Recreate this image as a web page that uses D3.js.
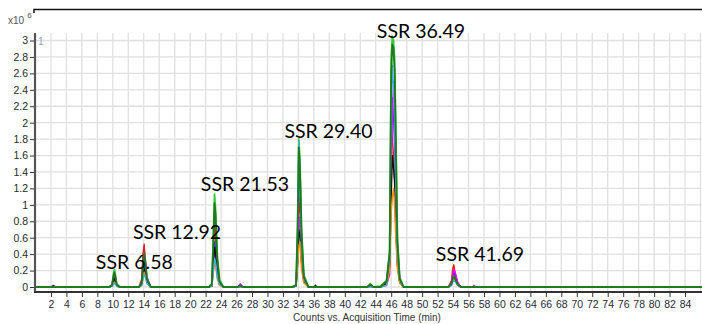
<!DOCTYPE html>
<html><head><meta charset="utf-8">
<script src="https://cdn.jsdelivr.net/npm/d3@7"></script>
<style>html,body{margin:0;padding:0;background:#fff;}svg{display:block;}</style>
</head><body>
<svg id="c" width="702" height="324"></svg>
<script>
// ---- data (intensity in x10^6 counts vs acquisition time in min) ----
const times = [0,
  2.0,2.3,2.6,
  9.5,9.9,10.05,10.2,10.35,10.5,10.9,
  13.4,13.75,13.9,14.05,14.2,14.4,14.9,
  22.4,22.8,23.0,23.15,23.3,23.5,23.8,24.3,
  26.2,26.5,26.8,
  33.2,33.7,33.9,34.05,34.2,34.4,34.7,35.3,
  36.0,36.2,36.4,
  42.9,43.3,43.7,
  44.6,45.4,45.8,46.0,46.15,46.3,46.45,46.6,46.8,47.1,47.6,
  53.4,53.8,53.95,54.1,54.3,54.6,55.0,
  56.5,56.7,56.9,
  86.5];
const brightGreen = [0, 0,0,0, 0,0.03,0.13,0.21,0.14,0.04,0, 0,0.07,0.30,0.46,0.33,0.12,0, 0,0.04,0.62,1.13,0.92,0.40,0.09,0, 0,0.02,0, 0,0.03,0.80,1.80,1.55,0.72,0.15,0, 0,0.01,0, 0,0.04,0, 0.01,0.08,0.45,2.80,3.05,3.00,2.75,1.90,0.60,0.12,0, 0,0.05,0.12,0.15,0.10,0.03,0, 0,0,0, 0];
const red = [0, 0,0.01,0, 0,0.02,0.08,0.12,0.07,0.02,0, 0,0.10,0.40,0.52,0.30,0.10,0, 0,0.02,0.40,0.85,0.60,0.25,0.05,0, 0,0.01,0, 0,0.02,0.55,1.10,0.90,0.35,0.08,0, 0,0,0, 0,0.02,0, 0,0.05,0.40,1.95,1.80,1.60,1.20,0.70,0.25,0.06,0, 0,0.08,0.22,0.27,0.15,0.04,0, 0,0,0, 0];
const blue = [0, 0,0,0, 0,0.01,0.05,0.08,0.06,0.01,0, 0,0.04,0.18,0.28,0.20,0.06,0, 0,0.02,0.30,0.55,0.45,0.18,0.04,0, 0,0.01,0, 0,0.01,0.50,1.20,1.35,0.55,0.10,0, 0,0,0, 0,0.01,0, 0,0.03,0.30,1.60,2.30,2.10,1.70,1.10,0.35,0.08,0, 0,0.04,0.12,0.18,0.14,0.05,0, 0,0,0, 0];
const magenta = [0, 0,0.02,0, 0,0.02,0.10,0.15,0.11,0.03,0, 0,0.05,0.25,0.40,0.34,0.12,0, 0,0.01,0.20,0.38,0.42,0.20,0.05,0, 0,0.04,0, 0,0.01,0.30,0.70,0.85,0.45,0.12,0, 0,0.01,0, 0,0.03,0, 0,0.02,0.15,1.20,2.10,2.50,2.20,1.40,0.50,0.10,0, 0,0.05,0.15,0.21,0.17,0.06,0, 0,0.02,0, 0];
const black = [0, 0,0.015,0, 0,0.01,0.06,0.10,0.08,0.02,0, 0,0.03,0.15,0.22,0.18,0.07,0, 0,0.01,0.25,0.48,0.40,0.15,0.03,0, 0,0.02,0, 0,0.01,0.30,0.70,0.62,0.30,0.06,0, 0,0.02,0, 0,0.01,0, 0,0.05,0.25,1.10,1.60,1.45,1.30,0.90,0.30,0.06,0, 0,0.03,0.09,0.12,0.09,0.03,0, 0,0,0, 0];
const orange = [0, 0,0,0, 0,0.01,0.04,0.06,0.04,0.01,0, 0,0.02,0.12,0.18,0.14,0.05,0, 0,0.01,0.18,0.30,0.26,0.10,0.02,0, 0,0,0, 0,0.01,0.25,0.50,0.55,0.22,0.05,0, 0,0,0, 0,0,0, 0,0.02,0.20,0.90,1.10,1.20,0.95,0.60,0.22,0.05,0, 0,0.02,0.07,0.10,0.08,0.02,0, 0,0,0, 0];
const cyan = [0, 0,0,0, 0,0.01,0.03,0.05,0.03,0.01,0, 0,0.02,0.10,0.15,0.12,0.04,0, 0,0.01,0.20,0.35,0.30,0.12,0.03,0, 0,0,0, 0,0.01,0.60,1.78,1.40,0.50,0.10,0, 0,0,0, 0,0,0, 0,0.02,0.35,2.30,2.70,2.40,2.00,1.20,0.40,0.08,0, 0,0.02,0.06,0.08,0.06,0.02,0, 0,0,0, 0];
const darkGreen = [0, 0,0,0, 0,0.02,0.12,0.18,0.12,0.03,0, 0,0.05,0.28,0.40,0.30,0.10,0, 0,0.03,0.55,1.02,0.85,0.35,0.07,0, 0,0.015,0, 0,0.02,0.70,1.70,1.45,0.65,0.12,0, 0,0,0, 0,0.03,0, 0,0.07,0.40,2.60,2.95,2.90,2.60,1.75,0.55,0.10,0, 0,0.04,0.10,0.13,0.09,0.03,0, 0,0,0, 0];

const seriesNames = ["brightGreen","red","blue","magenta","black","orange","cyan","darkGreen"];
const seriesValues = [brightGreen, red, blue, magenta, black, orange, cyan, darkGreen];
const seriesColors = ["#33cc33","#e31a1c","#1f3fd6","#ff00ff","#111111","#ff8c00","#3fa9f5","#1e7a1e"];

const xTicks = d3.range(2, 86, 2);
const yTicks = [0,0.2,0.4,0.6,0.8,1,1.2,1.4,1.6,1.8,2,2.2,2.4,2.6,2.8,3];
const yTickLabels = ["0","0.2","0.4","0.6","0.8","1","1.2","1.4","1.6","1.8","2","2.2","2.4","2.6","2.8","3"];

const peakLabels = ["SSR 6.58","SSR 12.92","SSR 21.53","SSR 29.40","SSR 36.49","SSR 41.69"];
const labelT = [12.78, 18.30, 27.09, 37.89, 49.85, 57.48];
const labelV = [0.219, 0.581, 1.172, 1.813, 3.027, 0.316];

// ---- drawing ----
const svg = d3.select("#c");
const x = d3.scaleLinear().domain([0, 86]).range([35.5, 700.5]);
const y = d3.scaleLinear().domain([0, 3]).range([287, 40.5]);
const plotTop = 33, axisY = 292;

// grid
const g = svg.append("g");
g.selectAll("line.v").data(xTicks.concat([86])).join("line")
  .attr("x1", d => x(d)).attr("x2", d => x(d))
  .attr("y1", plotTop).attr("y2", axisY)
  .attr("stroke", "#e0e0e0").attr("stroke-width", 1.3);
g.selectAll("line.h").data(yTicks).join("line")
  .attr("x1", 35).attr("x2", 702)
  .attr("y1", d => y(d)).attr("y2", d => y(d))
  .attr("stroke", "#e0e0e0").attr("stroke-width", 1.3);

// top frame line
svg.append("path").attr("d", "M34,13 V9.5 H702").attr("fill", "none")
  .attr("stroke", "#111").attr("stroke-width", 1.5);

// traces
const line = d3.line().x((d, i) => x(times[i])).y(d => y(d));
svg.append("g").selectAll("path").data(seriesValues).join("path")
  .attr("d", d => line(d))
  .attr("fill", "none")
  .attr("stroke", (d, i) => seriesColors[i])
  .attr("stroke-width", (d, i) => i === 0 ? 1.8 : (i === seriesValues.length - 1 ? 1.8 : 1.4))
  .attr("stroke-linejoin", "round");

// y axis
const yAxis = d3.axisLeft(y).tickValues(yTicks).tickFormat((d, i) => yTickLabels[i]).tickSize(5).tickPadding(2);
const ya = svg.append("g").attr("transform", "translate(35,0)").call(yAxis);
ya.select(".domain").remove();
ya.selectAll(".tick line").attr("stroke", "#333");
ya.selectAll("text").attr("font-family", "Liberation Sans, Arial, sans-serif").attr("font-size", 10.5).attr("fill", "#2a2a2a");
svg.append("line").attr("x1", 35).attr("x2", 35).attr("y1", plotTop).attr("y2", axisY + 1)
  .attr("stroke", "#555").attr("stroke-width", 2.2);

// x axis
const xAxis = d3.axisBottom(x).tickValues(xTicks).tickFormat(d3.format("d")).tickSize(5).tickPadding(4);
const xa = svg.append("g").attr("transform", `translate(0,${axisY})`).call(xAxis);
xa.select(".domain").remove();
xa.selectAll(".tick line").attr("stroke", "#333");
xa.selectAll("text").attr("font-family", "Liberation Sans, Arial, sans-serif").attr("font-size", 10.5).attr("fill", "#2a2a3a");
svg.append("line").attr("x1", 34).attr("x2", 702).attr("y1", axisY).attr("y2", axisY)
  .attr("stroke", "#333").attr("stroke-width", 2);

// axis title and multiplier
svg.append("text").attr("x", 367).attr("y", 321).attr("text-anchor", "middle")
  .attr("font-family", "Liberation Sans, Arial, sans-serif").attr("font-size", 10).attr("fill", "#333")
  .text("Counts vs. Acquisition Time (min)");
const mult = svg.append("text").attr("x", 8).attr("y", 24)
  .attr("font-family", "Liberation Sans, Arial, sans-serif").attr("font-size", 10).attr("fill", "#555");
mult.append("tspan").text("x10");
mult.append("tspan").attr("dx", 3).attr("dy", -6).attr("font-size", 8).text("6");
svg.append("text").attr("x", 38).attr("y", 45)
  .attr("font-family", "Liberation Sans, Arial, sans-serif").attr("font-size", 10).attr("fill", "#8aa0b8").text("1");

// peak labels
svg.append("g").selectAll("text").data(peakLabels).join("text")
  .attr("x", (d, i) => x(labelT[i])).attr("y", (d, i) => y(labelV[i]))
  .attr("text-anchor", "middle")
  .attr("font-family", "Lato, 'Open Sans', sans-serif").attr("font-size", 19.5).attr("fill", "#000")
  .text(d => d);
</script>
</body></html>
